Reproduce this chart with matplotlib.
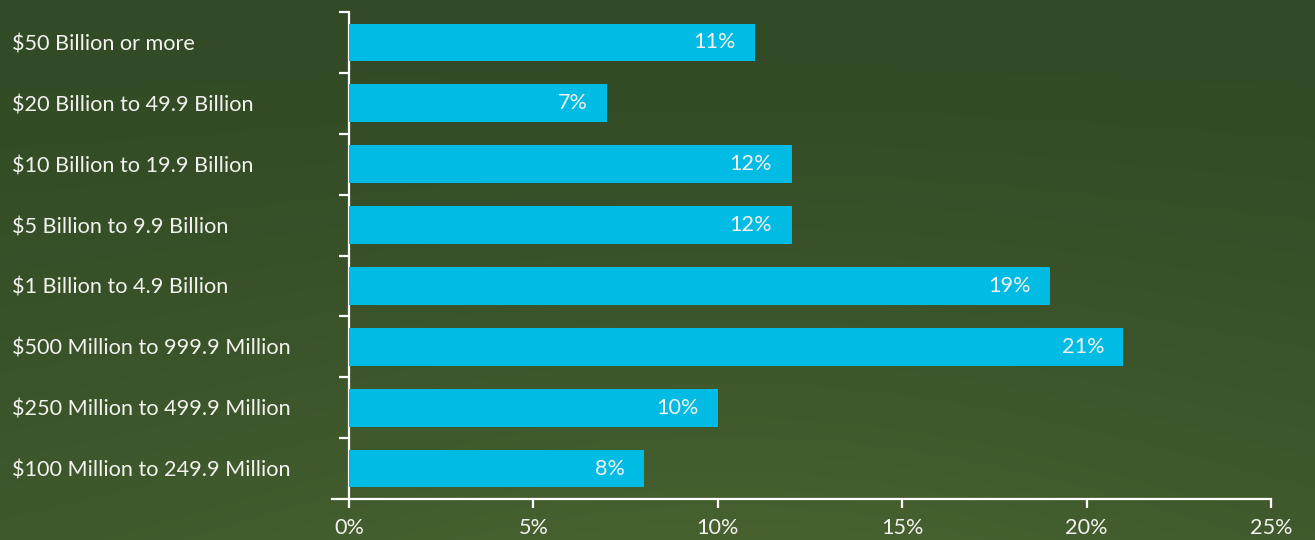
import numpy as np
import matplotlib.pyplot as plt
from matplotlib.ticker import FuncFormatter, FixedLocator

# Share of companies by annual revenue band
categories = [
    "$50 Billion or more",
    "$20 Billion to 49.9 Billion",
    "$10 Billion to 19.9 Billion",
    "$5 Billion to 9.9 Billion",
    "$1 Billion to 4.9 Billion",
    "$500 Million to 999.9 Million",
    "$250 Million to 499.9 Million",
    "$100 Million to 249.9 Million",
]
shares = [11, 7, 12, 12, 19, 21, 10, 8]
x_ticks = [0, 5, 10, 15, 20, 25]

BAR = "#00bce4"
INK = "#f2f2ee"
FONT = "Lato"
FS = 15.6

W, H = 1315, 540
fig = plt.figure(figsize=(W / 100, H / 100), dpi=100)

# green backdrop: darker at the top, lighter toward the lower middle
bg = fig.add_axes([0, 0, 1, 1], zorder=-10)
yy, xx = np.mgrid[0:1:270j, 0:1:660j]
top = np.array([50, 75, 38]) / 255
bot = np.array([72, 97, 48]) / 255
t = yy ** 1.5
glow = np.exp(-((xx - 0.55) ** 2) / 0.18)
mix = np.clip(t * (0.55 + 0.45 * glow), 0, 1)[..., None]
img = top * (1 - mix) + bot * mix
bg.imshow(img, aspect="auto", extent=[0, 1, 0, 1], origin="upper")
bg.axis("off")

ax = fig.add_axes([349 / W, 41 / H, (1271 - 349) / W, (499 - 12) / H])
ax.set_facecolor("none")

y = np.arange(len(categories))
ax.barh(y, shares, height=0.62, color=BAR, zorder=3)

for yi, v in zip(y, shares):
    ax.annotate(f"{v:.0f}%", xy=(v, yi), xytext=(-14, 0), textcoords="offset points",
                ha="right", va="center", color=INK, fontsize=FS, family=FONT, zorder=4)

ax.set_xlim(0, 25)
ax.set_ylim(len(categories) - 0.5, -0.5)

ax.set_xticks(x_ticks)
ax.xaxis.set_major_formatter(FuncFormatter(lambda v, p: f"{v:.0f}%"))
ax.tick_params(axis="x", direction="out", length=6.5, width=1.6, color="white",
               labelcolor=INK, labelsize=FS, pad=7)

ax.set_yticks(y)
ax.set_yticklabels(categories)
ax.tick_params(axis="y", which="major", length=0, pad=(349 - 12) * 0.72,
               labelcolor=INK, labelsize=FS)
for lab in ax.get_yticklabels():
    lab.set_ha("left")
    lab.set_family(FONT)
for lab in ax.get_xticklabels():
    lab.set_family(FONT)

ax.yaxis.set_minor_locator(FixedLocator(np.arange(-0.5, len(categories) - 1, 1.0)))
ax.tick_params(axis="y", which="minor", direction="out", length=7, width=1.6, color="white")

for side in ("top", "right"):
    ax.spines[side].set_visible(False)
ax.spines["left"].set_color("white")
ax.spines["left"].set_linewidth(1.6)
ax.spines["bottom"].set_color("white")
ax.spines["bottom"].set_linewidth(1.6)
ax.spines["bottom"].set_bounds(-0.45, 25)

fig.savefig("out.png", dpi=100)
